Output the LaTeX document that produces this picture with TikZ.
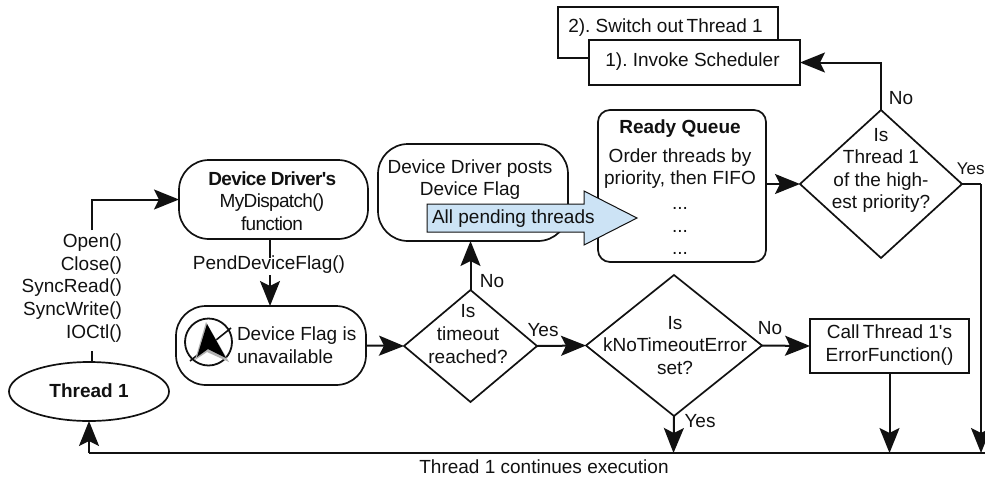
\documentclass[tikz,border=0pt]{standalone}
\usepackage{fontspec}
\setmainfont{Liberation Sans}[Ligatures=TeXOff]
\newfontfamily\tightfont{Liberation Sans}[Ligatures=TeXOff,LetterSpace=-3.5]
\usetikzlibrary{arrows.meta,shapes.geometric}
\definecolor{flowblue}{HTML}{CCE3F5}
\definecolor{ink}{HTML}{111111}
\tikzset{
  x=1pt,y=-1pt,
  lab/.style={inner sep=0pt,outer sep=0pt,align=center,text=ink,font=\frenchspacing\fontsize{19}{22.6}\selectfont},
  rbox/.style={draw=ink,line width=1.7pt,rounded corners=30pt,inner sep=0pt,outer sep=0pt},
  sbox/.style={draw=ink,line width=1.7pt,fill=white,inner sep=0pt,outer sep=0pt},
  flow/.style={draw=ink,line width=2pt,-{Stealth[length=25pt,width=20pt,inset=5pt]}},
  plainline/.style={draw=ink,line width=2pt},
  dia/.style={diamond,draw=ink,line width=1.7pt,inner sep=0pt,outer sep=0pt},
}
\begin{document}
\begin{tikzpicture}
\useasboundingbox (0,0) rectangle (985,480);
% boxes
\node[sbox,minimum width=220pt,minimum height=51pt] (sw) at (668,32.5) {};
\node[sbox,minimum width=211pt,minimum height=45pt] (inv) at (694.5,62.5) {};
\node[rbox,minimum width=189pt,minimum height=79pt] (drv) at (273.5,199.5) {};
\node[rbox,minimum width=190pt,minimum height=79pt] (flag) at (271,345.5) {};
\node[ellipse,draw=ink,line width=1.7pt,inner sep=0pt,outer sep=0pt,minimum width=160pt,minimum height=59pt] (thr) at (89,391.5) {};
\node[rbox,minimum width=190pt,minimum height=97pt] (post) at (473,192.5) {};
\node[rbox,rounded corners=12pt,minimum width=168pt,minimum height=152pt] (rq) at (682,186) {};
\node[dia,aspect=1.1875] (d1) at (470.5,346) {\phantom{\rule{66.5pt}{56pt}}};
\node[dia,aspect=1.248] (d2) at (674,345.5) {\phantom{\rule{88pt}{70.5pt}}};
\node[dia,aspect=1.095] (d3) at (881,184) {\phantom{\rule{81pt}{74pt}}};
\node[sbox,minimum width=159pt,minimum height=54pt] (call) at (889.5,346) {};
% named free ends
\coordinate (bl) at (89,453);
\coordinate (br) at (985,453);
\coordinate (j1) at (673.5,453);
\coordinate (j2) at (889.5,453);
\coordinate (j3) at (981,453);
\coordinate (yr) at (981,184);
\coordinate (tA) at (92,351);
\coordinate (tB) at (92,230);
\coordinate (dA) at (270,258);
\coordinate (dB) at (270,275);
% connectors
\draw[plainline] (br) -- (bl);
\draw[flow] (bl) -- (thr.south -| bl);
\draw[plainline] (thr.north -| tA) -- (tA);
\draw[flow] (tB) |- (drv.west);
\draw[plainline] (drv.south -| dA) -- (dA);
\draw[flow] (dB) -- (flag.north -| dB);
\draw[flow] (flag.east) -- (d1.west);
\draw[flow] (d1.east) -- (d2.west);
\draw[flow] (d2.east) -- (call.west);
\draw[flow] (d2.south) -- (j1);
\draw[flow] (call.south) -- (j2);
\draw[flow] (d1.north) -- (post.south -| d1.north);
\draw[flow] (rq.east |- d3.west) -- (d3.west);
\draw[flow] (d3.north) |- (inv.east);
\draw[plainline] (d3.east) -- (yr);
\draw[flow] (yr) -- (j3);
% big arrow
\draw[draw=ink,line width=1pt,fill=flowblue] (427,204) -- (584,204) -- (584,191) -- (637,218) -- (584,245) -- (584,232) -- (427,232) -- cycle;
% icon
\node[circle,draw=ink,line width=1.8pt,fill=white,inner sep=0pt,minimum size=47pt] (icon) at (208.5,342) {};
\coordinate (sa) at (190,361);
\coordinate (sb) at (231,328);
\draw[ink,line width=1.6pt] (sa) -- (sb);
\fill[black!30] (206,322) -- (195,360) -- (207,352) -- (229,362) -- cycle;
\fill[black] (207,324) -- (197,357) -- (208,349) -- (226,358) -- cycle;
% text
\node[lab,align=right,anchor=east] (t0) at (122,288) {Open()\\Close()\\SyncRead()\\SyncWrite()\\IOCtl()};
\node[lab] (t1) at (269,265) {PendDeviceFlag()};
\node[lab] (t2) at (272,201) {\tightfont\textbf{Device Driver's}\\\tightfont MyDispatch()\\\tightfont function};
\node[lab,align=left,anchor=west] (t3) at (237,345.5) {Device Flag is\\unavailable};
\node[lab] (t4) at (89,391) {\textbf{Thread 1}};
\node[lab] (t5) at (470,179.5) {Device Driver posts\\Device Flag};
\node[lab,anchor=west] (t6) at (432,219) {All pending threads};
\node[lab] (t7) at (680,129) {\textbf{Ready Queue}};
\node[lab] (t8) at (680,168.5) {Order threads by\\priority, then FIFO};
\node[lab] (t9) at (680,231) {...\\...\\...};
\node[lab] (t10) at (492,281) {No};
\node[lab] (t11) at (543,330) {Yes};
\node[lab] (t12) at (468,334) {Is\\timeout\\reached?};
\node[lab] (t13) at (675,345.5) {Is\\kNoTimeoutError\\set?};
\node[lab] (t14) at (770,328) {No};
\node[lab] (t15) at (700,421) {Yes};
\node[lab] (t16) at (889.5,345) {Call\kern-2pt{} Thread 1's\\ErrorFunction()};
\node[lab] (t17) at (544,467) {Thread 1 continues execution};
\node[lab] (t18) at (901,98) {No};
\node[lab] (t19) at (881,170.5) {Is\\Thread 1\\of the high-\\est priority?};
\node[lab,anchor=east,font=\fontsize{17}{20}\selectfont] (t20) at (984.5,169) {Yes};
\node[lab] (t21) at (665.5,28) {2). Switch out\kern-2pt{} Thread 1};
\node[lab] (t22) at (692.5,62) {1). Invoke Scheduler};
\end{tikzpicture}
\end{document}
